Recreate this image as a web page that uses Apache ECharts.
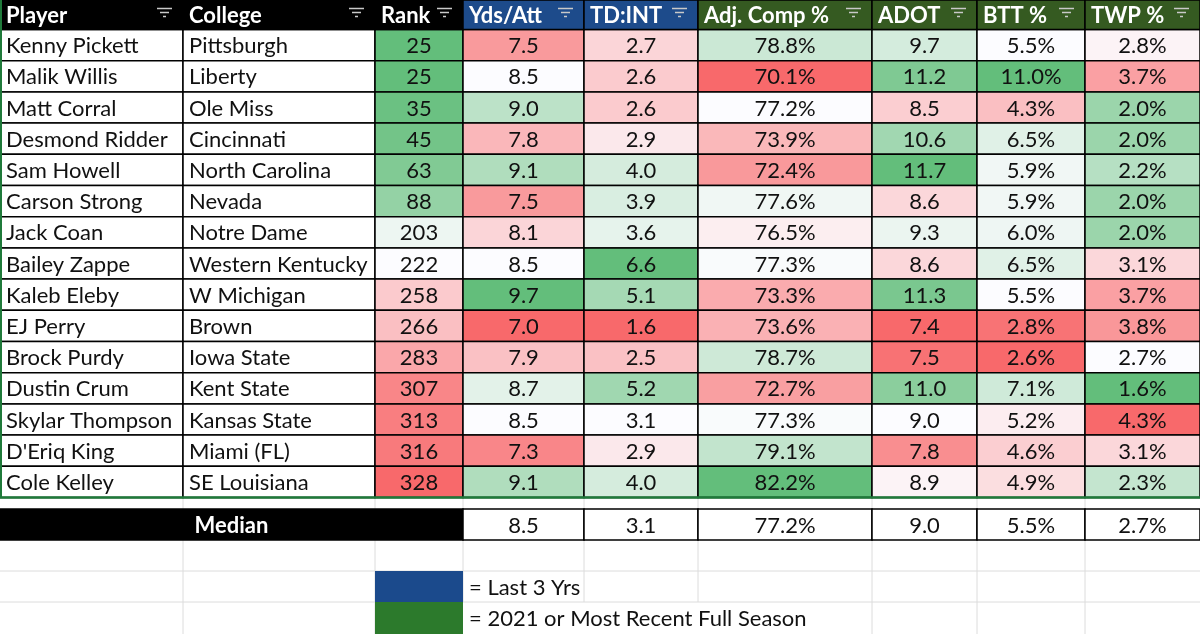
<!DOCTYPE html>
<html>
<head>
<meta charset="utf-8">
<script src="https://cdn.jsdelivr.net/npm/echarts@6/dist/echarts.min.js"></script>
<style>
  html, body { margin: 0; padding: 0; background: #fff; }
  #chart { width: 1200px; height: 634px; }
</style>
</head>
<body>
<div id="chart"></div>
<script>
// ---- data ----
const headers = ['Player', 'College', 'Rank', 'Yds/Att', 'TD:INT', 'Adj. Comp %', 'ADOT', 'BTT %', 'TWP %'];
const players = ['Kenny Pickett', 'Malik Willis', 'Matt Corral', 'Desmond Ridder', 'Sam Howell', 'Carson Strong',
  'Jack Coan', 'Bailey Zappe', 'Kaleb Eleby', 'EJ Perry', 'Brock Purdy', 'Dustin Crum', 'Skylar Thompson',
  "D'Eriq King", 'Cole Kelley'];
const colleges = ['Pittsburgh', 'Liberty', 'Ole Miss', 'Cincinnati', 'North Carolina', 'Nevada', 'Notre Dame',
  'Western Kentucky', 'W Michigan', 'Brown', 'Iowa State', 'Kent State', 'Kansas State', 'Miami (FL)', 'SE Louisiana'];
const rank = [25, 25, 35, 45, 63, 88, 203, 222, 258, 266, 283, 307, 313, 316, 328];
const ydsAtt = [7.5, 8.5, 9.0, 7.8, 9.1, 7.5, 8.1, 8.5, 9.7, 7.0, 7.9, 8.7, 8.5, 7.3, 9.1];
const tdInt = [2.7, 2.6, 2.6, 2.9, 4.0, 3.9, 3.6, 6.6, 5.1, 1.6, 2.5, 5.2, 3.1, 2.9, 4.0];
const adjComp = [78.8, 70.1, 77.2, 73.9, 72.4, 77.6, 76.5, 77.3, 73.3, 73.6, 78.7, 72.7, 77.3, 79.1, 82.2];
const adot = [9.7, 11.2, 8.5, 10.6, 11.7, 8.6, 9.3, 8.6, 11.3, 7.4, 7.5, 11.0, 9.0, 7.8, 8.9];
const btt = [5.5, 11.0, 4.3, 6.5, 5.9, 5.9, 6.0, 6.5, 5.5, 2.8, 2.6, 7.1, 5.2, 4.6, 4.9];
const twp = [2.8, 3.7, 2.0, 2.0, 2.2, 2.0, 2.0, 3.1, 3.7, 3.8, 2.7, 1.6, 4.3, 3.1, 2.3];
const medians = [8.5, 3.1, 77.2, 9.0, 5.5, 2.7];
const medianLabel = 'Median';
const legendLabels = ['= Last 3 Yrs', '= 2021 or Most Recent Full Season'];

// ---- layout / style ----
const colEdges = [0, 183, 375, 463, 584, 698, 872, 977, 1085, 1200];
const headerBand = [0, 29.5];
const bodyTop = 29.5, rowH = 31.2;
const medianBand = [509, 540];
const legendBands = [[571, 602], [602, 634]];
const FONT = 'Lato';
const FS = 22;
const headerFill = ['#000', '#000', '#000', '#1d4b8b', '#1d4b8b', '#355a21', '#355a21', '#355a21', '#355a21'];
const legendFill = ['#1b4a8c', '#2c7a2c'];
const RED = [248, 105, 107], WHITE = [252, 252, 255], GREEN = [99, 190, 123];

const metrics = [rank, ydsAtt, tdInt, adjComp, adot, btt, twp];
const lowIsGood = [true, false, false, false, false, false, true];
const fmt = [
  v => String(v),
  v => v.toFixed(1),
  v => v.toFixed(1),
  v => v.toFixed(1) + '%',
  v => v.toFixed(1),
  v => v.toFixed(1) + '%',
  v => v.toFixed(1) + '%'
];

function mix(a, b, t) {
  return 'rgb(' + a.map((x, i) => Math.round(x + (b[i] - x) * t)).join(',') + ')';
}

// excel style 3 colour scale: min / 50th percentile / max
function scaleColor(v, arr, lowGood) {
  const s = arr.slice().sort((a, b) => a - b);
  const min = s[0], max = s[s.length - 1];
  const pos = 0.5 * (s.length - 1);
  const mid = s[Math.floor(pos)] + (s[Math.ceil(pos)] - s[Math.floor(pos)]) * (pos - Math.floor(pos));
  const lo = lowGood ? GREEN : RED, hi = lowGood ? RED : GREEN;
  if (v <= mid) return mix(lo, WHITE, mid === min ? 1 : (v - min) / (mid - min));
  return mix(WHITE, hi, (v - mid) / (max - mid));
}

function box(api, x0, y0, x1, y1) {
  const p0 = api.coord([x0, y0]), p1 = api.coord([x1, y1]);
  return {
    x: Math.min(p0[0], p1[0]), y: Math.min(p0[1], p1[1]),
    width: Math.abs(p1[0] - p0[0]), height: Math.abs(p1[1] - p0[1])
  };
}

function label(api, text, x, yMid, opts) {
  const p = api.coord([x, yMid]);
  return {
    type: 'text',
    style: {
      text: text, x: p[0], y: p[1] + 1,
      fill: opts.color || '#000',
      fontFamily: FONT, fontSize: FS, fontWeight: opts.bold ? 'bold' : 'normal',
      align: opts.align || 'left', verticalAlign: 'middle'
    }
  };
}

function filterIcon(api, xRight, yMid) {
  const widths = [15, 9, 3];
  return widths.map((w, i) => {
    const r = box(api, xRight - 18.5 - w / 2, yMid - 7 + i * 4, xRight - 18.5 + w / 2, yMid - 5.5 + i * 4);
    return { type: 'rect', shape: r, style: { fill: '#c9c9c9' } };
  });
}

// ---- series data ----
const headerData = headers.map((h, i) => [i, 0]);
const bodyData = [];
players.forEach((p, r) => {
  for (let c = 0; c < headers.length; c++) bodyData.push([c, r]);
});
const medianData = medians.map((m, i) => [i + 3, 0]);
const legendData = legendLabels.map((l, i) => [2, i]);

const chart = echarts.init(document.getElementById('chart'));

chart.setOption({
  animation: false,
  backgroundColor: '#fff',
  grid: { left: 0, right: 0, top: 0, bottom: 0 },
  xAxis: { type: 'value', min: 0, max: 1200, show: false },
  yAxis: { type: 'value', min: 0, max: 634, inverse: true, show: false },
  series: [
    {
      // light sheet gridlines below the table
      type: 'custom',
      data: [[0, 0]],
      silent: true,
      renderItem: function (params, api) {
        const kids = [];
        const grey = '#dcdcdc';
        const vline = (x, y0, y1) => {
          const a = api.coord([x, y0]), b = api.coord([x, y1]);
          kids.push({ type: 'line', shape: { x1: a[0], y1: a[1], x2: b[0], y2: b[1] }, style: { stroke: grey, lineWidth: 1 } });
        };
        const hline = (y) => {
          const a = api.coord([0, y]), b = api.coord([1200, y]);
          kids.push({ type: 'line', shape: { x1: a[0], y1: a[1], x2: b[0], y2: b[1] }, style: { stroke: grey, lineWidth: 1 } });
        };
        colEdges.slice(1, -1).forEach(x => {
          vline(x, 498, 509);
          vline(x, 540, 602);
          if (x > 820) vline(x, 602, 634);
        });
        vline(colEdges[1], 602, 634);
        vline(colEdges[2], 602, 634);
        hline(571);
        hline(602);
        return { type: 'group', children: kids };
      },
      z: 1
    },
    {
      // header cells
      type: 'custom',
      data: headerData,
      silent: true,
      renderItem: function (params, api) {
        const c = api.value(0);
        const x0 = colEdges[c], x1 = colEdges[c + 1];
        const yMid = (headerBand[0] + headerBand[1]) / 2;
        return {
          type: 'group',
          children: [
            { type: 'rect', shape: box(api, x0, headerBand[0], x1, headerBand[1]), style: { fill: headerFill[c], stroke: '#000', lineWidth: 1.5 } },
            label(api, headers[c], x0 + 6, yMid, { color: '#fff', bold: true })
          ].concat(filterIcon(api, x1, yMid))
        };
      },
      z: 3
    },
    {
      // body cells
      type: 'custom',
      data: bodyData,
      silent: true,
      renderItem: function (params, api) {
        const c = api.value(0), r = api.value(1);
        const x0 = colEdges[c], x1 = colEdges[c + 1];
        const y0 = bodyTop + r * rowH, y1 = y0 + rowH;
        let text, fill = '#fff', align = 'left', tx = x0 + 6;
        if (c === 0) text = players[r];
        else if (c === 1) text = colleges[r];
        else {
          const m = c - 2;
          text = fmt[m](metrics[m][r]);
          fill = scaleColor(metrics[m][r], metrics[m], lowIsGood[m]);
          align = 'center';
          tx = (x0 + x1) / 2;
        }
        return {
          type: 'group',
          children: [
            { type: 'rect', shape: box(api, x0, y0, x1, y1), style: { fill: fill, stroke: '#000', lineWidth: 1.5 } },
            label(api, text, tx, (y0 + y1) / 2, { align: align, color: '#111' })
          ]
        };
      },
      z: 2
    },
    {
      // median row
      type: 'custom',
      data: medianData,
      silent: true,
      renderItem: function (params, api) {
        const c = api.value(0);
        const m = c - 2;
        const yMid = (medianBand[0] + medianBand[1]) / 2;
        const kids = [];
        if (params.dataIndex === 0) {
          kids.push({ type: 'rect', shape: box(api, 0, medianBand[0], colEdges[3], medianBand[1]), style: { fill: '#000', stroke: '#000', lineWidth: 1.5 } });
          kids.push(label(api, medianLabel, colEdges[3] / 2, yMid, { color: '#fff', bold: true, align: 'center' }));
        }
        kids.push({ type: 'rect', shape: box(api, colEdges[c], medianBand[0], colEdges[c + 1], medianBand[1]), style: { fill: '#fff', stroke: '#000', lineWidth: 1.5 } });
        kids.push(label(api, fmt[m](medians[c - 3]), (colEdges[c] + colEdges[c + 1]) / 2, yMid, { align: 'center', color: '#111' }));
        return { type: 'group', children: kids };
      },
      z: 2
    },
    {
      // colour key
      type: 'custom',
      data: legendData,
      silent: true,
      renderItem: function (params, api) {
        const c = api.value(0), i = api.value(1);
        const band = legendBands[i];
        return {
          type: 'group',
          children: [
            { type: 'rect', shape: box(api, colEdges[c], band[0], colEdges[c + 1], band[1]), style: { fill: legendFill[i] } },
            label(api, legendLabels[i], colEdges[c + 1] + 6, (band[0] + band[1]) / 2, { color: '#111' })
          ]
        };
      },
      z: 2
    },
    {
      // green selection edge of the table
      type: 'custom',
      data: [[0, 0]],
      silent: true,
      renderItem: function (params, api) {
        const yEnd = bodyTop + players.length * rowH;
        const a = api.coord([1, 0]), b = api.coord([1, yEnd]);
        const c = api.coord([0, yEnd]), d = api.coord([1200, yEnd]);
        return {
          type: 'group',
          children: [
            { type: 'line', shape: { x1: a[0], y1: a[1], x2: b[0], y2: b[1] }, style: { stroke: '#1f7a3a', lineWidth: 2 } },
            { type: 'line', shape: { x1: c[0], y1: c[1], x2: d[0], y2: d[1] }, style: { stroke: '#1f7a3a', lineWidth: 2.5 } }
          ]
        };
      },
      z: 5
    }
  ]
});
</script>
</body>
</html>
